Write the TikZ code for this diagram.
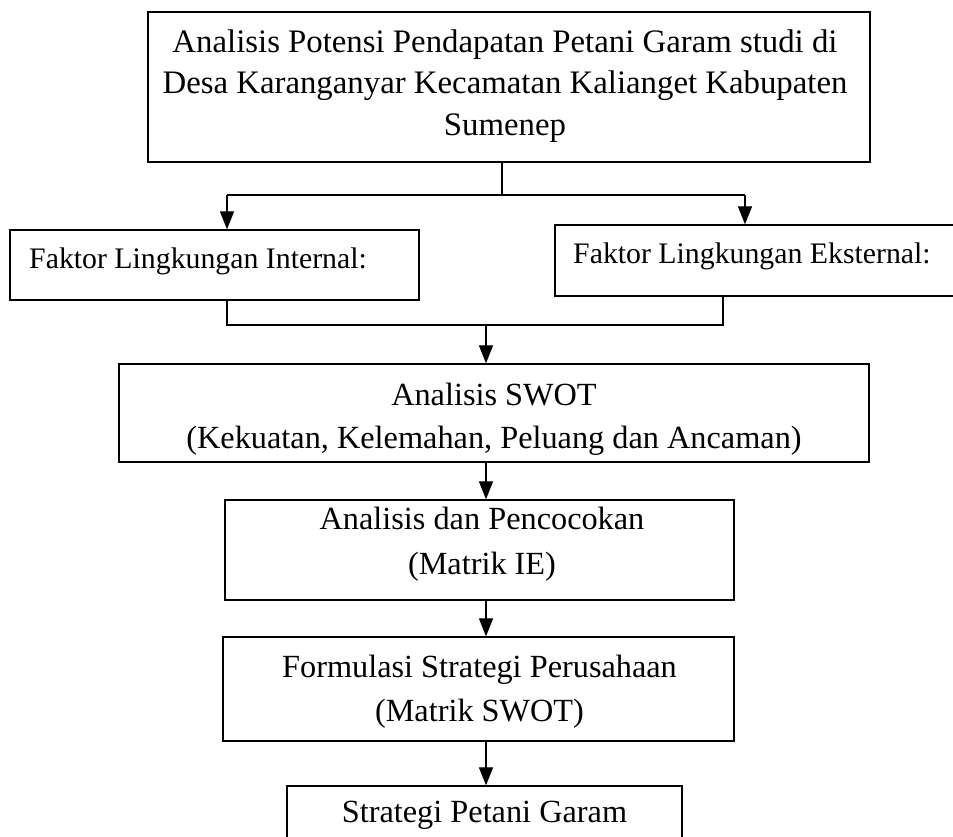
\documentclass[tikz,border=0pt]{standalone}
\usepackage{fontspec}
\setmainfont{Liberation Serif}
\usetikzlibrary{arrows.meta}
\begin{document}
\begin{tikzpicture}[x=1pt,y=-1pt,
  box/.style={draw, line width=1.3pt, inner sep=0pt},
  txt/.style={inner sep=0pt, align=center, font=\fontsize{32.3}{43}\selectfont},
  conn/.style={line width=1.2pt},
  arr/.style={line width=1.2pt, -{Triangle[width=14pt,length=18pt]}}]
\useasboundingbox (0,0) rectangle (953,837);
\clip (0,0) rectangle (953,837);

% boxes
\node[box, minimum width=722, minimum height=150] (top) at (509,87) {};
\node[box, minimum width=409, minimum height=70] (int) at (214.5,265) {};
\node[box, minimum width=464, minimum height=71] (ext) at (787,260.5) {};
\node[box, minimum width=750, minimum height=98] (swot) at (494,413) {};
\node[box, minimum width=509, minimum height=100] (pen) at (479.5,550) {};
\node[box, minimum width=511, minimum height=104] (form) at (478.5,689) {};
\node[box, minimum width=395, minimum height=56] (last) at (484.5,814) {};

% texts
\node[txt, font=\fontsize{32.8}{41.5}\selectfont] (topt) at (505,86)
  {Analisis Potensi Pendapatan Petani Garam studi di\\
   Desa Karanganyar Kecamatan Kalianget Kabupaten\\ Sumenep};
\node[txt, anchor=base west, font=\fontsize{29.8}{36}\selectfont] (intt) at (29,269)
  {Faktor Lingkungan Internal:};
\node[txt, anchor=base west, font=\fontsize{29.8}{38}\selectfont] (extt) at (573,263)
  {Faktor Lingkungan Eksternal:};
\node[txt] (swott) at (494,419)
  {Analisis SWOT\\(Kekuatan, Kelemahan, Peluang dan Ancaman)};
\node[txt, font=\fontsize{32.3}{45}\selectfont] (pent) at (482,544)
  {Analisis dan Pencocokan\\(Matrik IE)};
\node[txt, font=\fontsize{32.3}{44}\selectfont] (formt) at (479.5,692)
  {Formulasi Strategi Perusahaan\\(Matrik SWOT)};
\node[txt] (lastt) at (484.5,815) {Strategi Petani Garam};

% connectors
\coordinate (jt) at (502,195);
\coordinate (ja) at (227,195);
\coordinate (jb) at (745,195);
\draw[conn] (jt |- top.south) -- (jt);
\draw[conn] (ja) -- (jb);
\draw[arr] (ja) -- (ja |- int.north);
\draw[arr] (jb) -- (jb |- ext.north);

\coordinate (ka) at (227,325);
\coordinate (kb) at (723,325);
\coordinate (kc) at (486,325);
\draw[conn] (ka |- int.south) -- (ka) -- (kb) -- (kb |- ext.south);
\draw[arr] (kc) -- (kc |- swot.north);
\draw[arr] (kc |- swot.south) -- (kc |- pen.north);
\draw[arr] (kc |- pen.south) -- (kc |- form.north);
\draw[arr] (kc |- form.south) -- (kc |- last.north);
\end{tikzpicture}
\end{document}
